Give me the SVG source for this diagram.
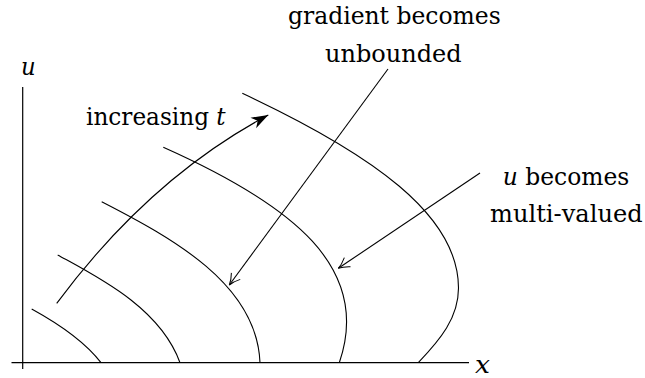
<svg xmlns="http://www.w3.org/2000/svg" width="645" height="378" viewBox="0 0 645 378">
<style>
.ln{fill:none;stroke:#000;stroke-width:1.1}
.ax{fill:none;stroke:#000;stroke-width:1.2}
</style>
<defs>
<marker id="stealth" markerUnits="userSpaceOnUse" markerWidth="24" markerHeight="16" viewBox="-20 -8 24 16" refX="0" refY="0" orient="auto">
<path d="M0,0 L-17,-6 L-12,0 L-17,6 Z" fill="#000"/>
</marker>
<marker id="open" markerUnits="userSpaceOnUse" markerWidth="16" markerHeight="14" viewBox="-14 -7 16 14" refX="0" refY="0" orient="auto">
<path d="M-11,-5.5 Q-5,-1.2 0,0 Q-5,1.2 -11,5.5" fill="none" stroke="#000" stroke-width="1"/>
</marker>
</defs>
<g id="axes">
<line class="ax" x1="22.7" y1="87" x2="22.7" y2="369"/>
<line class="ax" x1="11.5" y1="362.7" x2="469" y2="362.7"/>
</g>
<g id="curves">
<path id="curve1" class="ln" d="M31.7,309 Q80.3,335.7 101,362.7"/>
<path id="curve2" class="ln" d="M57.7,255 C97.7,277 160,307.7 180,362.7"/>
<path id="curve3" class="ln" d="M101.7,201.7 C171.7,237.7 257,284 260,362.7"/>
<path id="curve4" class="ln" d="M163.3,147.3 C293.3,205.3 372,268 339.3,362.7"/>
<path id="curve5" class="ln" d="M242.3,93.3 C372,154 458.5,215 458.5,288 C458.5,318 440,340 418.3,362.7"/>
</g>
<g id="connectors">
<path id="arrow-t" class="ln" d="M56.7,303.3 Q150,178 268.3,115" marker-end="url(#stealth)"/>
<path id="arrow-gradient" class="ln" d="M388,69 L229.3,285" marker-end="url(#open)"/>
<path id="arrow-multi" class="ln" d="M480,173 L338.3,268.3" marker-end="url(#open)"/>
</g>
<g id="labels" font-family="DejaVu Serif" font-size="24" fill="#000">
<text id="label-u" font-style="italic" x="21" y="75" textLength="14.7" lengthAdjust="spacingAndGlyphs">u</text>
<text id="label-x" font-style="italic" x="475" y="372.7" textLength="15" lengthAdjust="spacingAndGlyphs">x</text>
<text id="label-increasing" x="86" y="125" textLength="139.7" lengthAdjust="spacingAndGlyphs">increasing <tspan font-style="italic">t</tspan></text>
<g id="label-gradient">
<text x="288" y="24" textLength="212.7" lengthAdjust="spacingAndGlyphs">gradient becomes</text>
<text x="325" y="61.7" textLength="136.7" lengthAdjust="spacingAndGlyphs">unbounded</text>
</g>
<g id="label-multi">
<text x="502.7" y="185" textLength="126.6" lengthAdjust="spacingAndGlyphs"><tspan font-style="italic">u</tspan> becomes</text>
<text x="490" y="221.7" textLength="152.7" lengthAdjust="spacingAndGlyphs">multi-valued</text>
</g>
</g>
</svg>
